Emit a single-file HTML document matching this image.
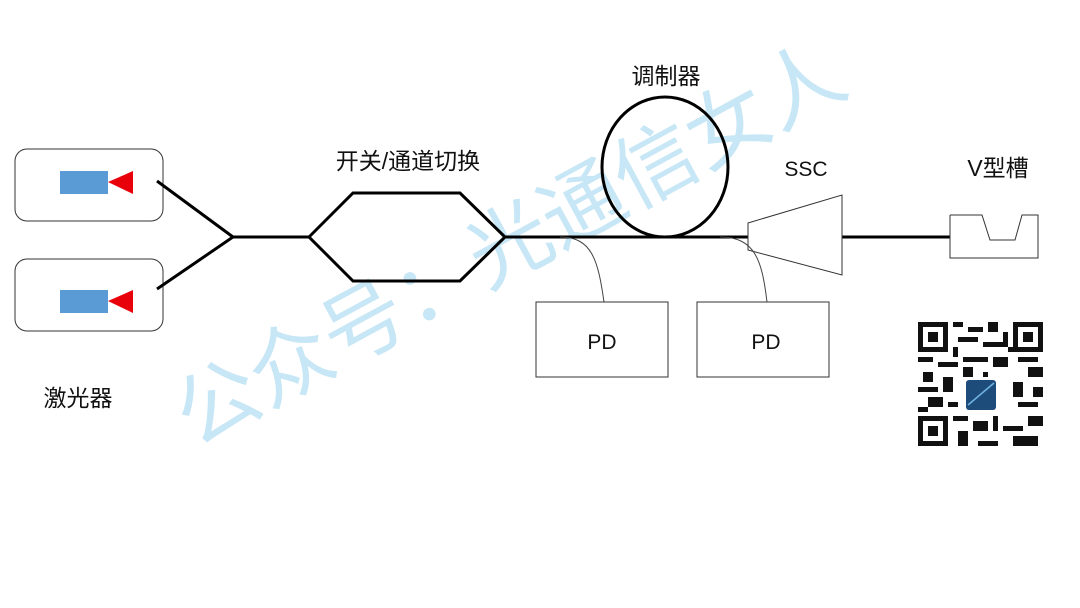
<!DOCTYPE html>
<html><head><meta charset="utf-8"><style>
body{margin:0;background:#fff;width:1080px;height:608px;overflow:hidden}
svg{display:block}
text{font-family:"Liberation Sans","Noto Sans CJK SC",sans-serif;fill:#111}
</style></head><body>
<svg width="1080" height="608" viewBox="0 0 1080 608" xmlns="http://www.w3.org/2000/svg">
<rect width="1080" height="608" fill="#fff"/>
<!-- watermark -->
<text x="0" y="0" transform="translate(195,448) rotate(-28.5)" font-size="83" style="fill:#c8e7f6">公众号：光通信女人</text>
<!-- lasers -->
<rect x="15" y="149" width="148" height="72" rx="12" fill="none" stroke="#333" stroke-width="1"/>
<rect x="15" y="259" width="148" height="72" rx="12" fill="none" stroke="#333" stroke-width="1"/>
<rect x="60" y="171" width="48" height="23" fill="#5b9bd5"/>
<polygon points="108,182 133,171 133,194" fill="#e8000b"/>
<rect x="60" y="290" width="48" height="23" fill="#5b9bd5"/>
<polygon points="108,301 133,290 133,313" fill="#e8000b"/>
<g stroke="#000" stroke-width="3" fill="none">
<polyline points="157,181 233,237 157,289"/>
<line x1="233" y1="237" x2="309" y2="237"/>
<polygon points="309,237 353,193 460,193 505,237 460,281 353,281"/>
<line x1="505" y1="237" x2="748" y2="237"/>
<ellipse cx="665" cy="167" rx="63" ry="70"/>
<line x1="842" y1="237" x2="950" y2="237"/>
</g>
<polygon points="748,223 842,195 842,275 748,250" fill="#fff" stroke="#333" stroke-width="1"/>
<polyline points="950,215 982,215 990,240 1015,240 1022,215 1038,215 1038,258 950,258 950,215" fill="#fff" stroke="#333" stroke-width="1"/>
<path d="M560,237 C592,237 598,260 604,302" fill="none" stroke="#444" stroke-width="1"/>
<path d="M720,237 C755,237 762,260 767,302" fill="none" stroke="#444" stroke-width="1"/>
<rect x="536" y="302" width="132" height="75" fill="#fff" stroke="#333" stroke-width="1"/>
<rect x="697" y="302" width="132" height="75" fill="#fff" stroke="#333" stroke-width="1"/>
<text x="408" y="169" font-size="23" text-anchor="middle">开关/通道切换</text>
<text x="666" y="84" font-size="23" text-anchor="middle">调制器</text>
<text x="806" y="176" font-size="21" text-anchor="middle">SSC</text>
<text x="998" y="176" font-size="23" text-anchor="middle">V型槽</text>
<text x="78" y="406" font-size="23" text-anchor="middle">激光器</text>
<text x="602" y="349" font-size="21" text-anchor="middle">PD</text>
<text x="766" y="349" font-size="21" text-anchor="middle">PD</text>
<!-- QR -->
<g fill="#111">
<rect x="918" y="322" width="30" height="30"/><rect x="923" y="327" width="20" height="20" fill="#fff"/><rect x="928" y="332" width="10" height="10"/>
<rect x="1013" y="322" width="30" height="30"/><rect x="1018" y="327" width="20" height="20" fill="#fff"/><rect x="1023" y="332" width="10" height="10"/>
<rect x="918" y="416" width="30" height="30"/><rect x="923" y="421" width="20" height="20" fill="#fff"/><rect x="928" y="426" width="10" height="10"/>
<rect x="953" y="322" width="10" height="5"/><rect x="968" y="327" width="15" height="5"/><rect x="988" y="322" width="10" height="10"/><rect x="958" y="337" width="20" height="5"/><rect x="983" y="342" width="20" height="5"/><rect x="953" y="347" width="5" height="10"/><rect x="1003" y="332" width="5" height="15"/>
<rect x="918" y="357" width="15" height="5"/><rect x="938" y="362" width="20" height="5"/><rect x="923" y="372" width="10" height="10"/><rect x="963" y="357" width="25" height="5"/><rect x="993" y="357" width="15" height="10"/><rect x="1018" y="357" width="20" height="5"/><rect x="1028" y="367" width="15" height="10"/>
<rect x="918" y="387" width="20" height="5"/><rect x="943" y="377" width="10" height="15"/><rect x="928" y="397" width="15" height="10"/><rect x="948" y="402" width="10" height="5"/><rect x="1013" y="382" width="10" height="15"/><rect x="1033" y="387" width="10" height="10"/><rect x="1018" y="402" width="20" height="5"/>
<rect x="953" y="416" width="15" height="5"/><rect x="958" y="431" width="10" height="15"/><rect x="973" y="421" width="15" height="10"/><rect x="993" y="416" width="5" height="15"/><rect x="1003" y="426" width="20" height="5"/><rect x="1028" y="416" width="15" height="10"/><rect x="1013" y="436" width="25" height="10"/><rect x="978" y="441" width="20" height="5"/>
<rect x="963" y="367" width="10" height="10"/><rect x="983" y="372" width="5" height="5"/>
<rect x="938" y="347" width="10" height="5"/><rect x="1008" y="347" width="5" height="5"/><rect x="918" y="407" width="10" height="5"/>
</g>
<rect x="966" y="380" width="30" height="30" rx="3" fill="#1e4c7a"/>
<path d="M968,405 L994,383" stroke="#6fb3e3" stroke-width="1.5"/>
</svg>
</body></html>
